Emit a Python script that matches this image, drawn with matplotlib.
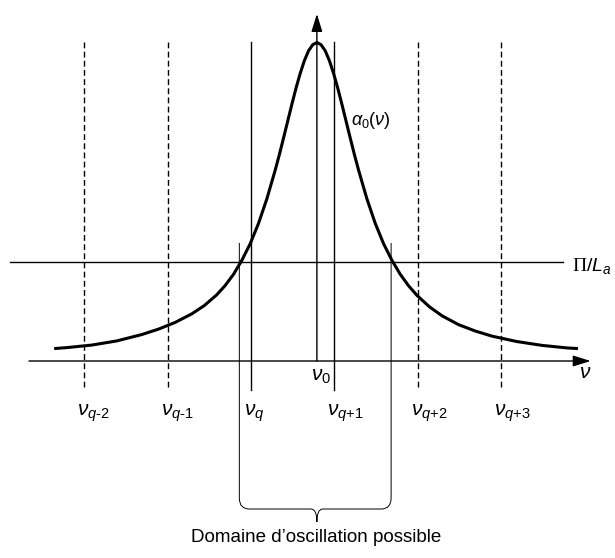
import matplotlib
matplotlib.use("Agg")
import matplotlib.pyplot as plt
from matplotlib.path import Path
from matplotlib.patches import PathPatch

plt.rcParams['font.family'] = ['Liberation Sans', 'DejaVu Sans']
plt.rcParams['mathtext.fontset'] = 'custom'
plt.rcParams['mathtext.rm'] = 'Liberation Sans'
plt.rcParams['mathtext.it'] = 'Liberation Sans:italic'
plt.rcParams['mathtext.tt'] = 'Liberation Serif'

#
# data : frequency in units of the mode spacing (nu_q = 0), gain normalised to the peak
#

mode_index = [-2, -1, 0, 1, 2, 3]
mode_labels = [r'$\nu_{q\text{-}2}$', r'$\nu_{q\text{-}1}$', r'$\nu_{q}$',
               r'$\nu_{q\text{+}1}$', r'$\nu_{q\text{+}2}$', r'$\nu_{q\text{+}3}$']
mode_dashed = [True, True, False, False, True, True]

nu0 = 0.79
threshold = 0.311          # Pi / L_a
cross_lo = -0.14           # where the gain curve meets the losses
cross_hi = 1.68

# gain curve alpha_0(nu)
gain_x = [-2.36, -2.21, -1.91, -1.61, -1.31, -1.11, -0.91, -0.71, -0.56, -0.41,
          -0.31, -0.21, -0.11, -0.01, 0.09, 0.19, 0.29, 0.34, 0.39, 0.44,
          0.49, 0.54, 0.59, 0.64, 0.69, 0.74, 0.79, 0.84, 0.89, 0.94,
          0.99, 1.04, 1.09, 1.14, 1.19, 1.24, 1.29, 1.39, 1.49, 1.59,
          1.69, 1.79, 1.89, 1.99, 2.14, 2.29, 2.49, 2.69, 2.89, 3.19,
          3.49, 3.79, 3.92]
gain_y = [0.039, 0.042, 0.050, 0.063, 0.083, 0.100, 0.121, 0.148, 0.174, 0.208,
          0.237, 0.272, 0.316, 0.368, 0.432, 0.509, 0.599, 0.648, 0.700, 0.753,
          0.806, 0.857, 0.903, 0.943, 0.974, 0.993, 1.000, 0.993, 0.974, 0.943,
          0.903, 0.857, 0.806, 0.753, 0.700, 0.648, 0.599, 0.509, 0.432, 0.368,
          0.316, 0.272, 0.236, 0.206, 0.170, 0.142, 0.114, 0.094, 0.078, 0.061,
          0.049, 0.041, 0.039]

#
# figure
#

fig = plt.figure(figsize=(6.15, 5.58), dpi=100)
ax = fig.add_axes([0, 0, 1, 1])
ax.set_xlim(-3.0096, 4.3645)
ax.set_ylim(-0.6185, 1.1334)
ax.axis('off')

arrow = dict(arrowstyle='-|>,head_length=1.35,head_width=0.42', mutation_scale=8,
             lw=1.0, color='black', shrinkA=0, shrinkB=0)

# frequency axis and gain axis
ax.annotate('', xy=(4.073, 0), xytext=(-2.662, 0), arrowprops=arrow)
ax.annotate('', xy=(nu0, 1.0895), xytext=(nu0, 0), arrowprops=arrow)

# losses
ax.plot([-2.89, 3.737], [threshold, threshold], color='black', lw=1.0)

# cavity modes
for k, lab, dashed in zip(mode_index, mode_labels, mode_dashed):
    if dashed:
        ax.plot([k, k], [1.0, -0.091], color='black', lw=1.0, dashes=(4.2, 2.4))
    else:
        ax.plot([k, k], [1.0, -0.091], color='black', lw=1.0)
    ax.text(k - 0.084, -0.1727, lab, fontsize=15, ha='left', va='baseline')

# gain curve
ax.plot(gain_x, gain_y, color='black', lw=2.2, solid_capstyle='butt',
        solid_joinstyle='round')

# brace under the oscillation domain
y_top, y_end, y_br, y_tip = 0.3705, -0.43, -0.4647, -0.5055
rx, cx = 0.12, 0.07
verts = [(cross_lo, y_top), (cross_lo, y_end),
         (cross_lo, y_br), (cross_lo + rx, y_br),
         (nu0 - cx, y_br),
         (nu0, y_br), (nu0, y_tip),
         (nu0, y_br), (nu0 + cx, y_br),
         (cross_hi - rx, y_br),
         (cross_hi, y_br), (cross_hi, y_end),
         (cross_hi, y_top)]
codes = [Path.MOVETO, Path.LINETO,
         Path.CURVE3, Path.CURVE3,
         Path.LINETO,
         Path.CURVE3, Path.CURVE3,
         Path.CURVE3, Path.CURVE3,
         Path.LINETO,
         Path.CURVE3, Path.CURVE3,
         Path.LINETO]
ax.add_patch(PathPatch(Path(verts, codes), fill=False, lw=0.7, color='black'))

# labels
ax.text(0.719, -0.063, r'$\nu_0$', fontsize=15, ha='left', va='baseline')
ax.text(3.933, -0.053, r'$\nu$', fontsize=15, ha='left', va='baseline')
ax.text(3.849, 0.2826, r'$\mathtt{\Pi}/L_a$', fontsize=14, ha='left', va='baseline')
ax.text(1.199, 0.741, r'$\alpha_0(\nu)$', fontsize=13, ha='left', va='baseline')
ax.text(0.779, -0.5526, 'Domaine d\u2019oscillation possible', fontsize=13.5,
        ha='center', va='center')

fig.savefig('out.png', dpi=100)
